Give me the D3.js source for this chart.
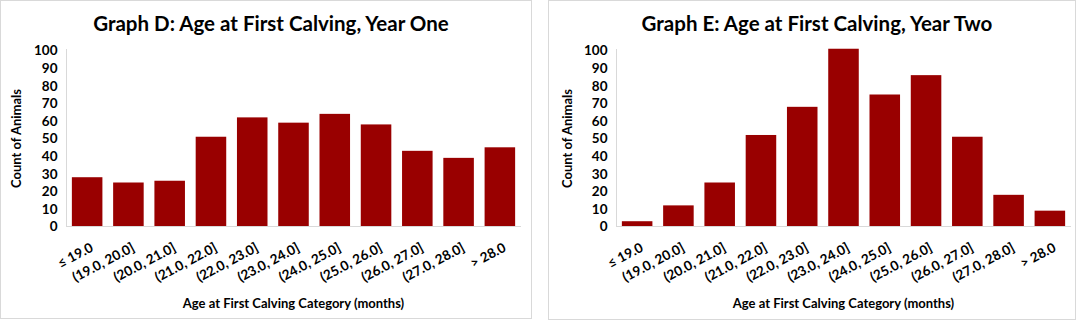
<!DOCTYPE html>
<meta charset="utf-8">
<head>
<style>
body {
  margin: 0;
  background: #fff;
  font-family: 'Lato', 'Open Sans', sans-serif;
}

.panel-box {
  fill: #fff;
  stroke: #d9d9d9;
}

.bar {
  fill: #990000;
}

.axis text {
  font-family: 'Lato', sans-serif;
  font-weight: bold;
  font-size: 13.5px;
  fill: #000;
}

.x.axis text {
  font-size: 13.5px;
}

.axis path,
.axis line {
  fill: none;
  stroke: #d9d9d9;
  shape-rendering: crispEdges;
}

.title {
  font-weight: bold;
  font-size: 20.5px;
}

.axis-title {
  font-weight: bold;
  font-size: 13px;
}
</style>
</head>
<body>
<div id="chart"></div>

<script src="https://d3js.org/d3.v7.min.js"></script>
<script>

var categories = ["\u2264 19.0", "(19.0, 20.0]", "(20.0, 21.0]", "(21.0, 22.0]", "(22.0, 23.0]",
                  "(23.0, 24.0]", "(24.0, 25.0]", "(25.0, 26.0]", "(26.0, 27.0]", "(27.0, 28.0]", "> 28.0"];

var yearOneCounts = [28, 25, 26, 51, 62, 59, 64, 58, 43, 39, 45];
var yearTwoCounts = [3, 12, 25, 52, 68, 101, 75, 86, 51, 18, 9];

var yTicks = [0, 10, 20, 30, 40, 50, 60, 70, 80, 90, 100];

var titles = ["Graph D: Age at First Calving, Year One", "Graph E: Age at First Calving, Year Two"];
var xTitle = "Age at First Calving Category (months)";
var yTitle = "Count of Animals";

var width = 1080, height = 321;

var svg = d3.select("#chart").append("svg")
    .attr("width", width)
    .attr("height", height);

// panel boxes and plot areas
var panels = [
  {x: 0.5, y: 0.5, w: 531, h: 318, plotLeft: 66, yTitleX: 16, values: yearOneCounts, title: titles[0]},
  {x: 548.5, y: 0.5, w: 527, h: 319, plotLeft: 68, yTitleX: 19, values: yearTwoCounts, title: titles[1]}
];

var plotTop = 50, plotBottom = 226, plotWidth = 454;

panels.forEach(function(p) {
  var g = svg.append("g")
      .attr("transform", "translate(" + p.x + "," + p.y + ")");

  g.append("rect")
      .attr("class", "panel-box")
      .attr("width", p.w)
      .attr("height", p.h);

  var x = d3.scaleBand()
      .domain(categories)
      .range([p.plotLeft, p.plotLeft + plotWidth])
      .paddingInner(0.26)
      .paddingOuter(0.13);

  var y = d3.scaleLinear()
      .domain([0, 100])
      .range([plotBottom, plotTop]);

  g.append("text")
      .attr("class", "title")
      .attr("x", p.w / 2 + 5)
      .attr("y", 30)
      .attr("text-anchor", "middle")
      .text(p.title);

  g.selectAll(".bar")
      .data(p.values)
    .enter().append("rect")
      .attr("class", "bar")
      .attr("x", function(d, i) { return x(categories[i]); })
      .attr("width", x.bandwidth())
      .attr("y", function(d) { return y(d); })
      .attr("height", function(d) { return plotBottom - y(d); });

  // y axis
  var yAxis = g.append("g")
      .attr("class", "y axis")
      .attr("transform", "translate(" + p.plotLeft + ",0)")
      .call(d3.axisLeft(y).tickValues(yTicks).tickSize(0).tickPadding(9));
  yAxis.select(".domain").attr("d", "M0," + (plotTop - 2) + "V" + plotBottom);

  // x axis
  var xAxis = g.append("g")
      .attr("class", "x axis")
      .attr("transform", "translate(0," + plotBottom + ")")
      .call(d3.axisBottom(x).tickSize(0));
  xAxis.select(".domain").attr("d", "M" + p.plotLeft + ",0H" + (p.plotLeft + plotWidth));
  xAxis.selectAll(".tick text")
      .attr("text-anchor", "end")
      .attr("x", 0)
      .attr("y", 0)
      .attr("dy", 0)
      .attr("transform", "translate(7,24) rotate(-28)");

  g.append("text")
      .attr("class", "axis-title")
      .attr("x", p.plotLeft + plotWidth / 2)
      .attr("y", 307)
      .attr("text-anchor", "middle")
      .text(xTitle);

  g.append("text")
      .attr("class", "axis-title")
      .attr("transform", "translate(" + p.yTitleX + "," + ((plotTop + plotBottom) / 2) + ") rotate(-90)")
      .attr("text-anchor", "middle")
      .attr("dy", "0.35em")
      .text(yTitle);
});

</script>
</body>
